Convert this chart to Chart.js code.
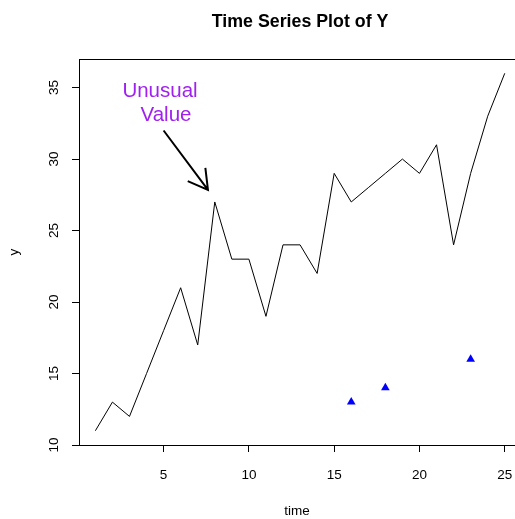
<!DOCTYPE html>
<html>
<head>
<meta charset="utf-8">
<script src="https://cdn.jsdelivr.net/npm/chart.js@4/dist/chart.umd.min.js"></script>
<style>
  html, body { margin: 0; padding: 0; background: #fff; }
  #wrap { width: 515px; height: 519px; }
</style>
</head>
<body>
<div id="wrap"><canvas id="tsChart"></canvas></div>
<script>
// data
const time = [1, 2, 3, 4, 5, 6, 7, 8, 9, 10, 11, 12, 13, 14, 15, 16, 17, 18, 19, 20, 21, 22, 23, 24, 25];
const yValues = [11, 13, 12, 15, 18, 21, 17, 27, 23, 23, 19, 24, 24, 22, 29, 27, 28, 29, 30, 29, 31, 24, 29, 33, 36];
const markTime = [16, 18, 23];
const markY = [13, 14, 16];
const xTicks = [5, 10, 15, 20, 25];
const yTicks = [10, 15, 20, 25, 30, 35];

// annotation, in data units
const noteLines = ["Unusual", "Value"];
const noteAt = [[4.79, 34.75], [5.14, 33.05]];
const arrowFrom = [5.0, 32.0];
const arrowTo = [7.6, 27.85];

const FONT = "'Liberation Sans', Arial, Helvetica, sans-serif";

const linePts = time.map((t, i) => ({ x: t, y: yValues[i] }));
const markPts = markTime.map((t, i) => ({ x: t, y: markY[i] }));

// box, title and the arrow note, like R's plot + text + arrows
const extras = {
  id: "extras",
  afterDraw(chart) {
    const { ctx, chartArea } = chart;
    const xs = chart.scales.x, ys = chart.scales.y;
    ctx.save();
    ctx.strokeStyle = "#000";
    ctx.lineWidth = 1;
    ctx.strokeRect(Math.round(chartArea.left) + 0.5, Math.round(chartArea.top) + 0.5,
      chartArea.right - chartArea.left + 20, Math.round(chartArea.bottom - chartArea.top));

    // title centered on the full R plot region
    ctx.fillStyle = "#000";
    ctx.font = "bold 17.8px " + FONT;
    ctx.textAlign = "center";
    ctx.textBaseline = "middle";
    ctx.fillText("Time Series Plot of Y", xs.getPixelForValue(13), 22);

    ctx.fillStyle = "#A020F0";
    ctx.font = "20.5px " + FONT;
    noteLines.forEach((s, i) => {
      ctx.fillText(s, xs.getPixelForValue(noteAt[i][0]), ys.getPixelForValue(noteAt[i][1]));
    });

    const x0 = xs.getPixelForValue(arrowFrom[0]), y0 = ys.getPixelForValue(arrowFrom[1]);
    const x1 = xs.getPixelForValue(arrowTo[0]), y1 = ys.getPixelForValue(arrowTo[1]);
    const ang = Math.atan2(y1 - y0, x1 - x0);
    const len = 22, spread = Math.PI / 6;
    ctx.strokeStyle = "#000";
    ctx.lineWidth = 2;
    ctx.beginPath();
    ctx.moveTo(x0, y0);
    ctx.lineTo(x1, y1);
    ctx.moveTo(x1 - len * Math.cos(ang - spread), y1 - len * Math.sin(ang - spread));
    ctx.lineTo(x1, y1);
    ctx.lineTo(x1 - len * Math.cos(ang + spread), y1 - len * Math.sin(ang + spread));
    ctx.stroke();
    ctx.restore();
  }
};

new Chart(document.getElementById("tsChart"), {
  type: "scatter",
  data: {
    datasets: [
      {
        label: "y",
        data: linePts,
        showLine: true,
        borderColor: "#000",
        borderWidth: 1,
        pointRadius: 0,
        tension: 0
      },
      {
        label: "unusual",
        data: markPts,
        pointStyle: "triangle",
        pointRadius: 5,
        backgroundColor: "#0000FF",
        borderColor: "#0000FF",
        borderWidth: 0
      }
    ]
  },
  options: {
    responsive: true,
    maintainAspectRatio: false,
    animation: false,
    events: [],
    layout: { autoPadding: false, padding: { top: 59, left: 0, right: 0, bottom: 0 } },
    plugins: { legend: { display: false }, tooltip: { enabled: false }, title: { display: false } },
    scales: {
      x: {
        type: "linear",
        min: 0.04,
        max: 25.6,
        afterBuildTicks: (s) => { s.ticks = xTicks.map(v => ({ value: v })); },
        afterFit: (s) => { s.height = 74; s.paddingRight = 0; s.paddingLeft = 0; },
        border: { display: false },
        grid: { drawOnChartArea: false, drawTicks: true, tickLength: 7, color: "#000", tickColor: "#000" },
        ticks: { color: "#000", font: { family: FONT, size: 13.5 }, padding: 15, maxRotation: 0 },
        title: { display: true, text: "time", color: "#000", font: { family: FONT, size: 13.5 }, padding: 0 }
      },
      y: {
        min: 10,
        max: 37,
        afterBuildTicks: (s) => { s.ticks = yTicks.map(v => ({ value: v })); },
        afterFit: (s) => { s.width = 79; },
        border: { display: false },
        grid: { drawOnChartArea: false, drawTicks: true, tickLength: 7, color: "#000", tickColor: "#000" },
        ticks: { color: "#000", font: { family: FONT, size: 13.5 }, padding: 10, minRotation: 90, maxRotation: 90, crossAlign: "center" },
        title: { display: true, text: "y", color: "#000", font: { family: FONT, size: 13.5 }, padding: { top: 6, bottom: 0 } }
      }
    }
  },
  plugins: [extras]
});
</script>
</body>
</html>
